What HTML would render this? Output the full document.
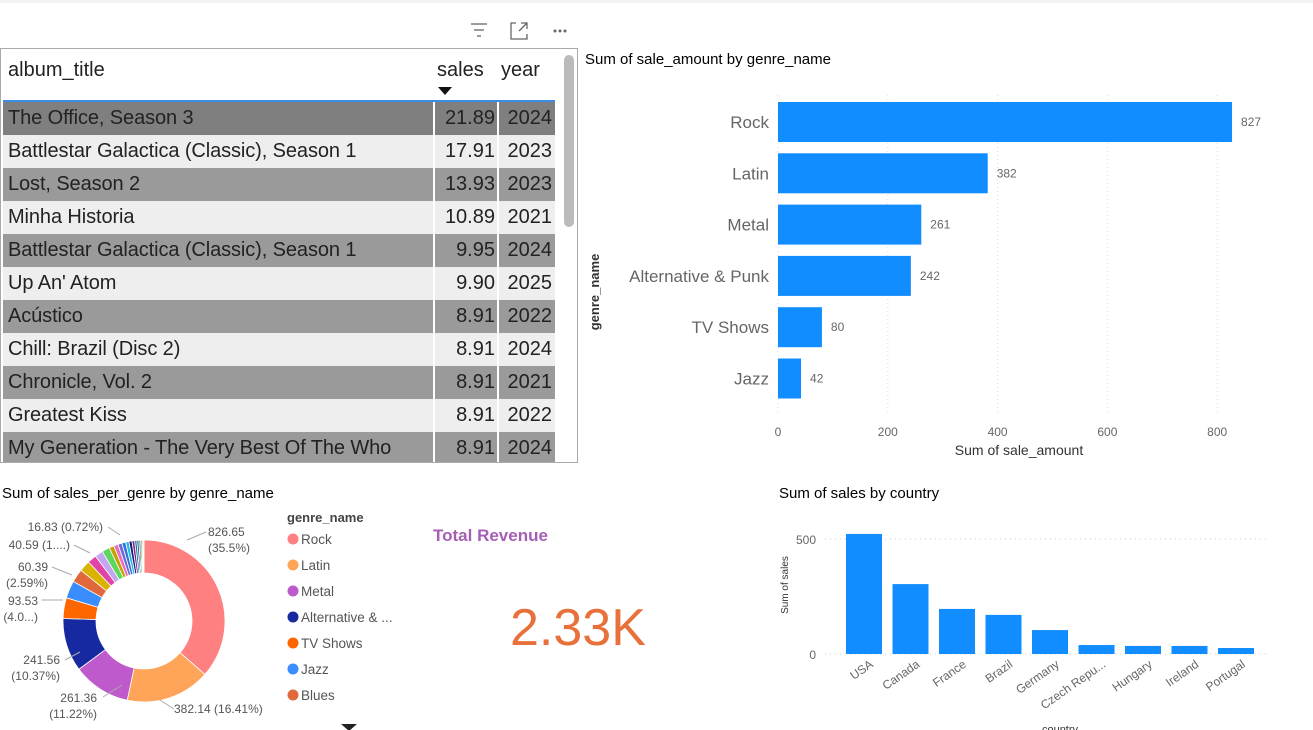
<!DOCTYPE html>
<html><head><meta charset="utf-8"><style>
body{margin:0;width:1313px;height:730px;background:#fff;font-family:"Liberation Sans","DejaVu Sans",sans-serif;position:relative;overflow:hidden}
.a{position:absolute}
.tbl{left:0;top:48px;width:578px;height:415px;border:1px solid #aaa;box-sizing:border-box;overflow:hidden}
.row{position:absolute;left:2px;width:552px;height:33px;font-size:20px;line-height:33px;color:#222}
.row span{position:absolute;top:0}
.c1{left:5px;letter-spacing:-0.1px}.c2{left:430px;width:60px;text-align:right;border-left:2px solid #fff;height:33px;padding-right:2px}.c3{left:494px;width:53px;text-align:right;border-left:2px solid #fff;height:33px;padding-right:3px}
.t{font-size:15px;color:#252423}
</style></head><body>
<div class="a" style="left:0;top:0;width:1313px;height:3px;background:#f3f3f3"></div>
<svg class="a" style="left:465px;top:18px" width="110" height="26">
<g stroke="#666" stroke-width="1.3"><line x1="6" y1="6" x2="22" y2="6"/><line x1="9" y1="12" x2="19" y2="12"/><line x1="12" y1="18" x2="16" y2="18"/></g>
<g stroke="#666" stroke-width="1.3" fill="none"><path d="M51 5 H46 V21 H62 V16"/><path d="M56 5 H62 V11 M62 5 L54 13"/></g>
<g fill="#666"><circle cx="90" cy="13" r="1.5"/><circle cx="95" cy="13" r="1.5"/><circle cx="100" cy="13" r="1.5"/></g>
</svg>
<div class="a tbl">
<div class="a" style="left:7px;top:10px;font-size:20px;color:#222">album_title</div>
<div class="a" style="left:436px;top:10px;font-size:20px;color:#222">sales</div>
<div class="a" style="left:500px;top:10px;font-size:20px;color:#222">year</div>
<div class="a" style="left:437px;top:38px;width:0;height:0;border-left:7px solid transparent;border-right:7px solid transparent;border-top:8px solid #111"></div>
<div class="a" style="left:2px;top:51px;width:552px;height:2px;background:#3a8ee6"></div>
<div id="rows"></div>
<div class="a" style="left:563px;top:6px;width:10px;height:172px;background:#bbb;border-radius:5px"></div>
</div>
<svg class="a" style="left:580px;top:40px" width="720" height="430" id="bc"></svg>
<svg class="a" style="left:0;top:480px" width="420" height="250" id="dc"></svg>
<div class="a" style="left:433px;top:526px;font-size:17px;font-weight:bold;color:#a65eb5">Total Revenue</div>
<div class="a" style="left:510px;top:598px;font-size:52px;color:#e8703a">2.33K</div>
<svg class="a" style="left:770px;top:480px" width="543" height="250" id="cc"></svg>
<script>
const rowTitles=["The Office, Season 3","Battlestar Galactica (Classic), Season 1","Lost, Season 2","Minha Historia","Battlestar Galactica (Classic), Season 1","Up An' Atom","Acústico","Chill: Brazil (Disc 2)","Chronicle, Vol. 2","Greatest Kiss","My Generation - The Very Best Of The Who"];
const rowSales=["21.89","17.91","13.93","10.89","9.95","9.90","8.91","8.91","8.91","8.91","8.91"];
const rowYears=["2024","2023","2023","2021","2024","2025","2022","2024","2021","2022","2024"];
const R=document.getElementById('rows');
rowTitles.forEach((t,i)=>{const d=document.createElement('div');d.className='row';


d.style.top=(53+i*33)+'px';d.style.background=i==0?'#7f7f7f':(i%2?'#eeeeee':'#9a9a9a');
d.innerHTML='<span class="c1">'+t+'</span><span class="c2">'+rowSales[i]+'</span><span class="c3">'+rowYears[i]+'</span>';R.appendChild(d);});
const NS='http://www.w3.org/2000/svg';
function el(p,tag,at,txt){const e=document.createElementNS(NS,tag);for(const k in at)e.setAttribute(k,at[k]);if(txt!=null)e.textContent=txt;p.appendChild(e);return e;}
const genres=["Rock","Latin","Metal","Alternative & Punk","TV Shows","Jazz"];
const genreVals=[827,382,261,242,80,42];
const xTicks=[0,200,400,600,800];
const bc=document.getElementById('bc');
const bx=v=>198+v*0.549;
let t=el(bc,'text',{x:5,y:24,class:'t','font-size':15});t.textContent='Sum of sale_amount by genre_name';


xTicks.forEach(v=>{const g=el(bc,'line',{x1:bx(v),x2:bx(v),y1:55,y2:375,stroke:'#ddd','stroke-dasharray':'1 3'});


const l=el(bc,'text',{x:bx(v),y:396,'text-anchor':'middle','font-size':12,fill:'#666'},v);

});
genres.forEach((g,i)=>{const y=62+i*51.3;
const r=el(bc,'rect',{x:bx(0),y:y,width:bx(genreVals[i])-bx(0),height:40,fill:'#118dff'});


const l=el(bc,'text',{x:189,y:y+26,'text-anchor':'end','font-size':17,fill:'#666'},g);


const v=el(bc,'text',{x:bx(genreVals[i])+9,y:y+24,'font-size':12,fill:'#666'},genreVals[i]);

});
t=el(bc,'text',{x:439,y:415,'text-anchor':'middle','font-size':14,fill:'#333'},'Sum of sale_amount');


t=el(bc,'text',{x:0,y:0,transform:'translate(19,252) rotate(-90)','text-anchor':'middle','font-size':13,'font-weight':'bold',fill:'#333'},'genre_name');


const slices=["Rock","Latin","Metal","Alternative & Punk","TV Shows","Jazz","Blues","Pop","Soundtrack","Classical","R&B","Reggae","Easy Listening","Hip Hop","Drama","Sci Fi","World","Heavy Metal","Bossa Nova","Comedy","Electronica","Opera","Rock And Roll","Science Fiction"];
const sliceVals=[826.65,382.14,261.36,241.56,93.53,79.2,60.39,50,40.59,37,35,22,20,18,16.83,15,14,12,10,9,8,6,5,4];
const cols=["#ff8080","#ffa55a","#be5acb","#1629a0","#ff6600","#3a8dff","#e0683a","#d9b300","#e044a7","#c3a5f0","#5dd75e","#c8a000","#e66fc0","#6a6ad8","#3a6fd8","#20c0e0","#1a1a80","#8a2090","#0a7a9a","#2a5a9a","#20a060","#d02020","#40b040","#ff6060"];
const dc=document.getElementById('dc');
t=el(dc,'text',{x:2,y:18,class:'t','font-size':15},'Sum of sales_per_genre by genre_name');


const tot=sliceVals.reduce((a,b)=>a+b,0);const cx=144,cy=141,ro=81,ri=48;let a0=0;
sliceVals.forEach((v,i)=>{const a1=a0+v/tot*2*Math.PI;const p=(a,r)=>[cx+r*Math.sin(a),cy-r*Math.cos(a)];
const [x1,y1]=p(a0,ro),[x2,y2]=p(a1,ro),[x3,y3]=p(a1,ri),[x4,y4]=p(a0,ri);const lg=(a1-a0)>Math.PI?1:0;
const s=el(dc,'path',{d:`M${x1} ${y1}A${ro} ${ro} 0 ${lg} 1 ${x2} ${y2}L${x3} ${y3}A${ri} ${ri} 0 ${lg} 0 ${x4} ${y4}Z`,fill:cols[i],stroke:'#fff','stroke-width':0.8});

a0=a1;});
const dl=[["826.65",208,56,"start"],["(35.5%)",208,72,"start"],["382.14 (16.41%)",174,233,"start"],["261.36",97,222,"end"],["(11.22%)",97,238,"end"],["241.56",60,184,"end"],["(10.37%)",60,200,"end"],["93.53",38,125,"end"],["(4.0...)",38,141,"end"],["60.39",48,91,"end"],["(2.59%)",48,107,"end"],["40.59 (1....)",70,69,"end"],["16.83 (0.72%)",103,51,"end"]];
dl.forEach(d=>{const l=el(dc,'text',{x:d[1],y:d[2],'text-anchor':d[3],'font-size':12,fill:'#555'},d[0]);

});
[[187,60,206,52],[174,229,160,220],[103,217,122,205],[65,180,80,172],[42,120,63,120],[52,87,72,95],[74,65,90,73],[108,47,120,55]].forEach(q=>{const l=el(dc,'polyline',{points:`${q[0]},${q[1]} ${q[2]},${q[3]}`,stroke:'#aaa',fill:'none'});

});
t=el(dc,'text',{x:287,y:42,'font-size':13,'font-weight':'bold',fill:'#444'},'genre_name');


["Rock","Latin","Metal","Alternative & ...","TV Shows","Jazz","Blues"].forEach((g,i)=>{const y=59+i*26;
const c=el(dc,'circle',{cx:293,cy:y,r:5.5,fill:cols[i]});


const l=el(dc,'text',{x:301,y:y+5,'font-size':13.5,fill:'#555'},g);

});
t=el(dc,'path',{d:'M341 244 L357 244 L349 251Z',fill:'#222'});


const countries=["USA","Canada","France","Brazil","Germany","Czech Repu...","Hungary","Ireland","Portugal"];
const countryVals=[522,304,196,170,104,39,35,35,26];
const yTicks=[0,500];
const cc=document.getElementById('cc');
const cy2=v=>174-v*0.23;
t=el(cc,'text',{x:9,y:18,class:'t','font-size':15},'Sum of sales by country');


yTicks.forEach(v=>{const g=el(cc,'line',{x1:55,x2:498,y1:cy2(v),y2:cy2(v),stroke:'#ccc','stroke-dasharray':'1 4'});


const l=el(cc,'text',{x:46,y:cy2(v)+5,'text-anchor':'end','font-size':12,fill:'#666'},v);

});
countries.forEach((c,i)=>{const x=76+i*46.5;
const r=el(cc,'rect',{x:x,y:cy2(countryVals[i]),width:36,height:cy2(0)-cy2(countryVals[i]),fill:'#118dff'});


const l=el(cc,'text',{x:0,y:0,transform:`translate(${x+28},${186}) rotate(-35)`,'text-anchor':'end','font-size':12,fill:'#666'},c);

});
t=el(cc,'text',{x:0,y:0,transform:'translate(18,105) rotate(-90)','text-anchor':'middle','font-size':10,fill:'#333'},'Sum of sales');


t=el(cc,'text',{x:290,y:253,'text-anchor':'middle','font-size':11,fill:'#333'},'country');


</script>
</body></html>
